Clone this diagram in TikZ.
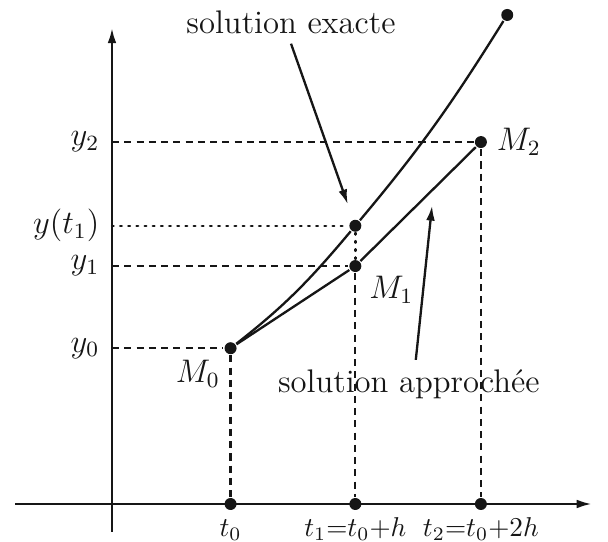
\documentclass[tikz,border=0pt]{standalone}
\usepackage{amsmath}
\usepackage{xcolor}
\usetikzlibrary{arrows.meta,positioning}
\definecolor{ink}{RGB}{22,22,22}
\tikzset{
  pt/.style={circle,fill=ink,inner sep=0pt,minimum size=4.4pt},
  guide/.style={dash pattern=on 2.6pt off 1.9pt,line width=0.8pt},
  guidedot/.style={dash pattern=on 0.6pt off 2.4pt,line width=0.9pt,line cap=round},
  ylab/.style={inner sep=0pt},
  tlab/.style={font=\normalsize,inner sep=0pt},
}

\begin{document}
\begin{tikzpicture}[font=\large,ink,line width=0.85pt,>={Latex[length=5.5pt,width=3.2pt]}]
 \useasboundingbox (-1.445,-0.49) rectangle (6.40,6.503);
 % axes
 \coordinate (xmin) at (-1.25,0);
 \coordinate (xmax) at (6.19,0);
 \coordinate (ymin) at (0,-0.36);
 \coordinate (ymax) at (0,6.14);
 \draw[->] (xmin)--(xmax);
 \draw[->] (ymin)--(ymax);
 % points of the exact and approximate solutions
 \node[pt] (M0) at (1.53,2.01) {};
 \node[pt] (M1) at (3.14,3.07) {};
 \node[pt] (E1) at (3.14,3.59) {};
 \node[pt] (M2) at (4.76,4.67) {};
 \node[pt] (Ef) at (5.10,6.31) {};
 % steps on the t axis
 \node[pt] (T0) at (1.53,0) {};
 \node[pt] (T1) at (3.14,0) {};
 \node[pt] (T2) at (4.76,0) {};
 % ordinates on the y axis
 \coordinate (Y0) at (0,2.01);
 \coordinate (Y1) at (0,3.07);
 \coordinate (Yt) at (0,3.59);
 \coordinate (Y2) at (0,4.67);
 % guide lines
 \draw[guide] (Y0)--(M0)--(T0);
 \draw[guide] (Y1)--(M1)--(T1);
 \draw[guide] (Y2)--(M2)--(T2);
 \draw[guidedot] (Yt)--(E1)--(M1);
 % exact solution
 \draw (M0) to[out=38,in=230] (E1) to[out=50,in=238] (Ef);
 % Euler polygon
 \draw (M0)--(M1)--(M2);
 % labels on the axes
 \node[ylab,left=0.15cm of Y0] (ly0) {$y_0$};
 \node[ylab,left=0.15cm of Y1] (ly1) {$y_1$};
 \node[ylab,left=0.15cm of Yt] (lyt) {$y(t_1)$};
 \node[ylab,left=0.15cm of Y2] (ly2) {$y_2$};
 \node[tlab,below=0.33cm of T0,anchor=base] (lt0) {$t_0$};
 \node[tlab,below=0.33cm of T1,anchor=base] (lt1) {$t_1{=}t_0{+}h$};
 \node[tlab,below=0.33cm of T2,anchor=base] (lt2) {$t_2{=}t_0{+}2h$};
 % point names
 \node[below left=0.08cm and 0.06cm of M0,inner sep=0pt] (lM0) {$M_0$};
 \node[below right=0.05cm and 0.10cm of M1,inner sep=0pt] (lM1) {$M_1$};
 \node[right=0.10cm of M2,inner sep=0pt] (lM2) {$M_2$};
 % captions with arrows
 \node (exlab) at (2.31,6.22) {solution exacte};
 \node (aplab) at (3.83,1.54) {solution approchée};
 \coordinate (aptip) at (4.13,3.85);
 \draw[->,shorten >=0.2cm] (exlab.south)--(E1);
 \draw[->] ([xshift=0.09cm]aplab.north)--(aptip);
\end{tikzpicture}
\end{document}
